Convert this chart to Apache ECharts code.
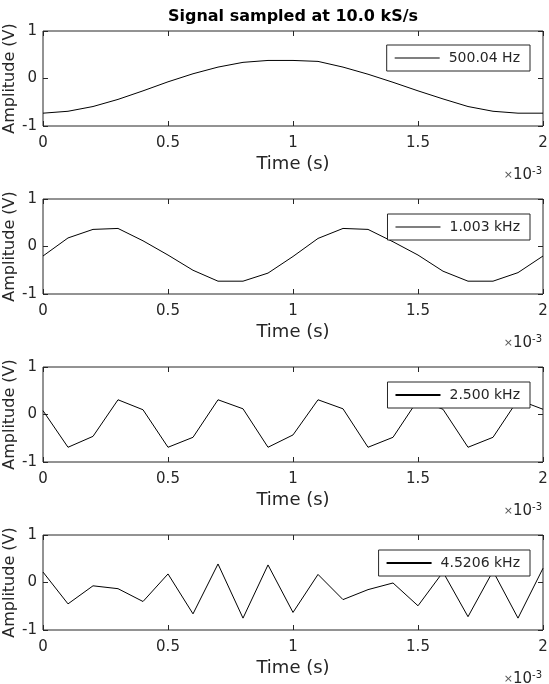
<!DOCTYPE html>
<html>
<head>
<meta charset="utf-8">
<script src="https://cdn.jsdelivr.net/npm/echarts@6/dist/echarts.min.js"></script>
<style>
  html, body { margin: 0; padding: 0; background: #fff; }
  #chart { width: 549px; height: 684px; }
</style>
</head>
<body>
<div id="chart"></div>
<script>
// sample instants (s), 10 kS/s
const sampleTimes = [0, 0.0001, 0.0002, 0.0003, 0.0004, 0.0005, 0.0006, 0.0007, 0.0008, 0.0009, 0.001,
  0.0011, 0.0012, 0.0013, 0.0014, 0.0015, 0.0016, 0.0017, 0.0018, 0.0019, 0.002]

const seriesNames = ['500.04 Hz', '1.003 kHz', '2.500 kHz', '4.5206 kHz']

const amp500Hz = [-0.73, -0.69, -0.59, -0.44, -0.26, -0.07, 0.10, 0.24, 0.34, 0.38, 0.38,
  0.36, 0.24, 0.09, -0.08, -0.26, -0.43, -0.59, -0.69, -0.73, -0.73]
const amp1kHz = [-0.20, 0.18, 0.36, 0.38, 0.12, -0.18, -0.50, -0.73, -0.73, -0.56, -0.21,
  0.17, 0.38, 0.36, 0.10, -0.18, -0.52, -0.73, -0.73, -0.55, -0.20]
const amp2k5Hz = [0.08, -0.69, -0.46, 0.31, 0.10, -0.69, -0.48, 0.31, 0.12, -0.69, -0.43,
  0.31, 0.12, -0.69, -0.48, 0.31, 0.11, -0.69, -0.48, 0.31, 0.11]
const amp4k5Hz = [0.22, -0.45, -0.07, -0.13, -0.40, 0.18, -0.66, 0.39, -0.75, 0.37, -0.63,
  0.17, -0.36, -0.15, -0.01, -0.49, 0.22, -0.72, 0.24, -0.75, 0.30]

const amplitudes = [amp500Hz, amp1kHz, amp2k5Hz, amp4k5Hz]
const gridTops = [31, 199, 367, 535]
const legendTops = [45, 214, 382, 550]
const legendLineWidths = [1, 1, 2, 2]

const ink = '#262626'
const font = 'DejaVu Sans'

const chart = echarts.init(document.getElementById('chart'), null, { renderer: 'canvas' })

const grid = []
const xAxis = []
const yAxis = []
const series = []
const legend = []
const graphic = []

const tickStyle = { inside: true, length: 5, lineStyle: { color: ink } }

gridTops.forEach((top, i) => {
  grid.push({
    left: 43, right: 6, top: top, height: 95,
    outerBoundsMode: 'none', containLabel: false,
    show: true, borderColor: ink, borderWidth: 1, backgroundColor: '#fff'
  })
  // bottom axis with labels
  xAxis.push({
    type: 'value', gridIndex: i, min: 0, max: 0.002, interval: 0.0005,
    name: 'Time (s)', nameLocation: 'middle', nameGap: 29, nameMoveOverlap: false,
    nameTextStyle: { color: ink, fontFamily: font, fontSize: 18 },
    axisLine: { show: false, onZero: false },
    axisTick: tickStyle,
    axisLabel: {
      color: ink, fontFamily: font, fontSize: 15, margin: 10,
      formatter: v => String(Math.round(v * 1e4) / 10)
    },
    splitLine: { show: false }
  })
  // top axis, ticks only
  xAxis.push({
    type: 'value', gridIndex: i, position: 'top', min: 0, max: 0.002, interval: 0.0005,
    axisLine: { show: false, onZero: false },
    axisTick: tickStyle,
    axisLabel: { show: false },
    splitLine: { show: false }
  })
  yAxis.push({
    type: 'value', gridIndex: i, min: -1, max: 1, interval: 1,
    name: 'Amplitude (V)', nameLocation: 'middle', nameGap: 25, nameMoveOverlap: false,
    nameTextStyle: { color: ink, fontFamily: font, fontSize: 16 },
    axisLine: { show: false, onZero: false },
    axisTick: tickStyle,
    axisLabel: { color: ink, fontFamily: font, fontSize: 15, margin: 6 },
    splitLine: { show: false }
  })
  yAxis.push({
    type: 'value', gridIndex: i, position: 'right', min: -1, max: 1, interval: 1,
    axisLine: { show: false, onZero: false },
    axisTick: tickStyle,
    axisLabel: { show: false },
    splitLine: { show: false }
  })
  series.push({
    name: seriesNames[i],
    type: 'line',
    xAxisIndex: i * 2,
    yAxisIndex: i * 2,
    data: sampleTimes.map((t, k) => [t, amplitudes[i][k]]),
    symbol: 'none',
    lineStyle: { color: '#000', width: 1 },
    itemStyle: { color: '#000' },
    animation: false
  })
  legend.push({
    data: [seriesNames[i]],
    right: 19,
    top: legendTops[i],
    icon: 'rect',
    itemWidth: 45,
    itemHeight: legendLineWidths[i],
    padding: [6, 10, 6, 8],
    backgroundColor: '#fff',
    borderColor: ink,
    borderWidth: 1,
    borderRadius: 0,
    itemStyle: { color: '#000' },
    textStyle: { color: ink, fontFamily: font, fontSize: 14, padding: [0, 0, 0, 4] },
    selectedMode: false
  })
  graphic.push({
    type: 'text',
    right: 7,
    top: top + 135,
    style: {
      text: '{a|×}{b|10}{c|-3}',
      fill: ink,
      rich: {
        a: { fontFamily: font, fontSize: 11, fill: '#555' },
        b: { fontFamily: font, fontSize: 15, fill: ink },
        c: { fontFamily: font, fontSize: 10, fill: ink, verticalAlign: 'top', padding: [0, 0, 9, 0] }
      }
    }
  })
})

chart.setOption({
  animation: false,
  backgroundColor: '#fff',
  title: {
    text: 'Signal sampled at 10.0 kS/s',
    left: 288,
    textAlign: 'center',
    top: 4,
    textStyle: { color: '#000', fontFamily: font, fontSize: 16, fontWeight: 'bold' }
  },
  grid: grid,
  xAxis: xAxis,
  yAxis: yAxis,
  legend: legend,
  graphic: graphic,
  series: series
})
</script>
</body>
</html>
